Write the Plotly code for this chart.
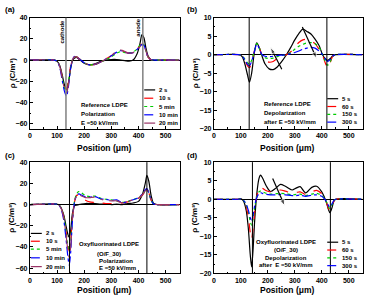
import plotly.graph_objects as go

# ---------------- data ----------------
# Panel (a) Reference LDPE, polarization
xa = [0, 90, 100, 110, 120, 128, 135, 142, 150, 158, 165, 172, 185, 200, 220, 240, 260, 280, 300, 320, 335, 350, 365, 380, 395, 405, 413, 420, 427, 435, 445, 460, 550]
a_2s   = [0, 0, -1, -5, -15, -24, -28, -22, -8, 0, 2, 2.5, 0, -3, -4.5, -3.5, -1.5, 0, 0.5, 0.5, 0, -0.5, -1, 0, 6, 15, 24, 21, 12, 4, 0.5, 0, 0]
a_10s  = [0, 0, -1, -6, -17, -25, -27, -20, -6, 1, 3, 3, 0.5, -2.5, -4.5, -4, -2, 1, 4, 7.5, 9.5, 7.5, 6.5, 7, 10, 13.5, 15, 14, 9, 3, 0.5, 0, 0]
a_5m   = [0, 0, -1, -6, -18, -27, -30, -22, -7, 1, 3, 3, 0.5, -2.5, -4.5, -4, -2, 0.5, 3, 6.5, 8, 7, 6.5, 7.5, 10.5, 14, 15.5, 14.5, 9, 3, 0.5, 0, 0]
a_10m  = [0, 0, -1, -7, -20, -30, -34, -25, -8, 1, 3.5, 3, 0.5, -2.5, -4.5, -4, -2, 1, 4, 7.5, 9, 7.5, 6.5, 7, 10, 13, 14.5, 14, 9, 3, 0.5, 0, 0]
a_20m  = [0, 0, -1, -6, -18, -28, -31, -23, -7, 1, 3, 3, 0.5, -2.5, -4.5, -4, -2, 1, 4.5, 8, 9.5, 8, 6.5, 7, 9.5, 12.5, 14, 13.5, 9, 3, 0.5, 0, 0]

# Panel (b) Reference LDPE, depolarization
xb = [0, 95, 105, 115, 125, 132, 140, 150, 159, 168, 177, 190, 205, 220, 235, 250, 269, 285, 300, 315, 330, 345, 360, 375, 390, 403, 412, 422, 432, 440, 450, 550]
b_5s   = [0, 0, -0.5, -2.5, -5.5, -7.4, -5, 0.5, 3.2, 2, 0, -2.5, -3.8, -4, -3.3, -2, 0, 2, 4, 5.7, 6.9, 6.3, 5.6, 4.2, 2.5, 0, -1, -1.5, -1, -0.3, 0, 0]
b_60s  = [0, 0, -0.3, -1.5, -3, -3.5, -2, 1, 3, 2, 0, -1.5, -2, -1.8, -1, -0.3, 0, 0.8, 2, 3.3, 4, 4.2, 3.8, 3, 1.5, 0, -2, -3.5, -2, -0.5, 0, 0]
b_150s = [0, 0, -0.3, -1.2, -2.2, -2.5, -1.5, 1, 3, 2, 0, -0.8, -1, -0.9, -0.5, -0.2, 0, 0.6, 1.5, 2.3, 2.8, 3.2, 3.3, 3, 2, 0, -1.6, -2.8, -1.8, -0.5, 0, 0]
b_300s = [0, 0, -0.3, -1.4, -2.6, -3, -1.8, 0.8, 2.8, 1.8, 0.2, -0.4, -0.5, -0.4, -0.2, -0.1, 0, 0.3, 0.6, 1, 1.5, 1.8, 2, 1.8, 1, 0, -1, -1.8, -1.2, -0.4, 0, 0]

# Panel (c) Oxyfluorinated LDPE, polarization
xc = [0, 95, 105, 115, 125, 133, 140, 145, 150, 157, 165, 172, 180, 190, 205, 220, 240, 260, 280, 300, 320, 340, 360, 380, 400, 415, 425, 431, 438, 447, 456, 470, 550]
c_2s   = [0, 0.5, 0, -3, -10, -20, -28, -31, -25, -8, -1, -0.5, 0, 0.5, 1, 1, 1, 0.5, 0.5, 0, 0.5, 0, 1, 1.5, 3, 10, 20, 27.5, 22, 8, 1, 0, 0]
c_10s  = [0, 0.5, 0, -3, -12, -25, -38, -44, -36, -12, 3, 8.5, 9.2, 7, 4, 2.5, 2, 1.5, 1, 1, 1, 1.5, 2.5, 4, 6, 9, 13, 14.5, 11, 4, 0.5, 0, 0]
c_5m   = [0, 0.5, 0, -3, -12, -26, -39, -45, -37, -12, 4, 10, 12.3, 11, 8.5, 7.5, 8, 6, 5, 4.5, 3.5, 2, 3, 4.5, 6.5, 9, 13.5, 14.5, 11, 4, 0.5, 0, 0]
c_10m  = [0, 0.5, 0, -4, -15, -32, -49, -57, -46, -15, 3, 8, 10, 9, 7, 7, 7.5, 5.5, 5, 4, 4.5, 1.5, 3, 4.5, 6.5, 10, 14, 15, 11.5, 4, 0.5, 0, 0]
c_20m  = [0, 0.5, 0, -3.5, -13, -28, -43, -50, -41, -13, 3, 8.5, 9.5, 8, 6.5, 6.5, 7, 5, 4, 3.5, 3.5, 1.5, 3, 4.5, 6, 9.5, 13, 14, 11, 4, 0.5, 0, 0]

# Panel (d) Oxyfluorinated LDPE, depolarization
xd = [0, 90, 100, 110, 120, 128, 135, 140, 145, 152, 160, 167, 173, 180, 195, 210, 230, 247, 265, 290, 305, 320, 340, 363, 381, 400, 410, 418, 425, 430, 437, 445, 452, 550]
d_5s   = [0, 0, 0.2, -0.5, -3, -8, -15, -18.2, -14, -5, 2, 5.5, 6.5, 5.8, 3.5, 2.1, 3, 4, 3.5, 2.5, 3, 3.4, 1.7, 3.2, 3.5, 2, 0.5, -1, -2.8, -3.6, -2.5, -0.5, 0, 0]
d_60s  = [0, 0, 0.1, -0.3, -2, -5, -9, -10.8, -8, -3, 1, 2.8, 3.3, 3, 2.3, 2, 2.2, 2.5, 2.2, 1.6, 1.8, 2, 1.3, 2, 2.4, 1.5, 0.3, -1, -2.5, -3, -2, -0.5, 0, 0]
d_150s = [0, 0, 0.1, -0.3, -1.5, -3.5, -6, -7, -5.5, -2, 0.8, 2, 2.2, 2, 1.6, 1.4, 1.5, 1.6, 1.5, 1.2, 1.3, 1.4, 1, 1.4, 1.6, 1, 0.2, -0.8, -2, -2.5, -1.6, -0.4, 0, 0]
d_300s = [0, 0, 0.1, -0.3, -1.3, -3, -5, -6, -4.5, -1.5, 0.6, 1.5, 1.8, 1.6, 1.3, 1.2, 1.2, 1.3, 1.2, 1, 1, 1.1, 0.8, 1.1, 1.2, 0.8, 0.1, -0.7, -1.7, -2.1, -1.4, -0.3, 0, 0]

pol_names = ["2 s", "10 s", "5 min", "10 min", "20 min"]
depol_names = ["5 s", "60 s", "150 s", "300 s"]
x_ticks = [0, 100, 200, 300, 400, 500]
y_ticks_pol = [40, 20, 0, -20, -40, -60]
y_ticks_depol = [10, 5, 0, -5, -10, -15, -20]
electrodes_a = [133, 416]
electrodes_b = [131, 419]
electrodes_c = [146, 431]
electrodes_d = [143, 432]

# arrows (tail x, tail y, head x, head y) indicating decay with time
arrow_b1 = ([252, 210], [-3.9, 2.0])
arrow_b2 = ([328, 381], [7.5, -1.0])
arrow_d1 = ([218, 263], [5.6, -1.8])

# ---------------- style ----------------
W, H = 369, 295
FONT = "Liberation Sans"
styles = [
    dict(color="black", dash="solid"),
    dict(color="#FF0000", dash="dash"),
    dict(color="#00CC00", dash="dot"),
    dict(color="#0000FF", dash="dashdot"),
    dict(color="#993366", dash="longdashdot"),
]

def px(x):
    return x / W

def py(y):
    return 1 - y / H

fig = go.Figure()

panels = [
    ("x", "y", xa, [a_2s, a_10s, a_5m, a_10m, a_20m], pol_names),
    ("x2", "y2", xb, [b_5s, b_60s, b_150s, b_300s], depol_names),
    ("x3", "y3", xc, [c_2s, c_10s, c_5m, c_10m, c_20m], pol_names),
    ("x4", "y4", xd, [d_5s, d_60s, d_150s, d_300s], depol_names),
]
for xr, yr, xs, series, names in panels:
    for i, (ys, nm) in enumerate(zip(series, names)):
        fig.add_trace(go.Scatter(
            x=xs, y=ys, name=nm, mode="lines", xaxis=xr, yaxis=yr,
            line=dict(color=styles[i]["color"], dash=styles[i]["dash"], width=1.2,
                      shape="spline", smoothing=0.8),
            showlegend=False))

for xr, yr, (ax_, ay_) in [("x2", "y2", arrow_b1), ("x2", "y2", arrow_b2), ("x4", "y4", arrow_d1)]:
    fig.add_trace(go.Scatter(
        x=ax_, y=ay_, mode="lines+markers", xaxis=xr, yaxis=yr, showlegend=False,
        line=dict(color="black", width=1.2),
        marker=dict(symbol=["circle", "arrow"], size=[0.1, 7], angleref="previous",
                    color="black"),
        hoverinfo="skip"))

dom_x = [[px(28), px(179)], [px(213), px(363)]]
dom_y = [[py(128), py(14)], [py(276), py(162)]]

tickfont = dict(family=FONT, size=7, color="black", weight="bold")
def xaxis(dom, anchor):
    return dict(domain=dom, anchor=anchor, range=[0, 553], tickvals=x_ticks,
                showline=True, mirror=True, linecolor="black", linewidth=1,
                ticks="inside", ticklen=3, tickcolor="black", showgrid=False,
                zeroline=False, tickfont=tickfont,
                minor=dict(ticks="inside", ticklen=1.5, dtick=50, tickcolor="black"))

def yaxis(dom, anchor, rng, tv, md):
    return dict(domain=dom, anchor=anchor, range=rng, tickvals=tv,
                showline=True, mirror=True, linecolor="black", linewidth=1,
                ticks="inside", ticklen=3, tickcolor="black", showgrid=False,
                zeroline=True, zerolinecolor="black", zerolinewidth=1,
                tickfont=tickfont,
                minor=dict(ticks="inside", ticklen=1.5, dtick=md, tickcolor="black"))

fig.update_layout(
    width=W, height=H, margin=dict(l=0, r=0, t=0, b=0),
    paper_bgcolor="white", plot_bgcolor="white",
    xaxis=xaxis(dom_x[0], "y"), yaxis=yaxis(dom_y[0], "x", [-65, 40], y_ticks_pol, 10),
    xaxis2=xaxis(dom_x[1], "y2"), yaxis2=yaxis(dom_y[0], "x2", [-20, 10], y_ticks_depol, 2.5),
    xaxis3=xaxis(dom_x[0], "y3"), yaxis3=yaxis(dom_y[1], "x3", [-65, 40], y_ticks_pol, 10),
    xaxis4=xaxis(dom_x[1], "y4"), yaxis4=yaxis(dom_y[1], "x4", [-20, 10], y_ticks_depol, 2.5),
    showlegend=False,
)

# electrode lines
for xr, yr, els, col, wd in [("x", "y", electrodes_a, "#808080", 1.5),
                             ("x2", "y2", electrodes_b, "black", 1),
                             ("x3", "y3", electrodes_c, "black", 1),
                             ("x4", "y4", electrodes_d, "black", 1)]:
    for e in els:
        fig.add_shape(type="line", xref=xr, yref=yr + " domain", x0=e, x1=e, y0=0, y1=1,
                      line=dict(color=col, width=wd))

ann = []
def txt(x, y, s, size=6, xref="paper", yref="paper", xanchor="center", angle=0):
    ann.append(dict(x=x, y=y, text=s, xref=xref, yref=yref, showarrow=False,
                    xanchor=xanchor, yanchor="middle", textangle=angle,
                    font=dict(family=FONT, size=size, color="black", weight="bold")))

# panel labels
txt(px(8), py(6), "(a)", 8)
txt(px(192), py(6), "(b)", 8)
txt(px(8), py(155), "(c)", 8)
txt(px(192), py(155), "(d)", 8)

# axis titles
ytitle = "ρ (C/m³)"
for xx, yy in [(10, 70), (194, 70), (10, 218), (194, 218)]:
    txt(px(xx), py(yy), ytitle, 8, angle=-90)
for xx, yy in [(103, 148), (287, 148), (103, 293), (287, 293)]:
    txt(px(xx), py(yy), "Position (μm)", 8.5)

# cathode / anode labels
txt(119, 27, "cathode", 6, "x", "y", angle=-90)
txt(400, 31, "anode", 6, "x", "y", angle=-90)

# panel texts
for i, s in enumerate(["Reference LDPE", "Polarization", "E =50 kV/mm"]):
    txt(182, [-42, -50.5, -59][i], s, 6, "x", "y", xanchor="left")
for i, s in enumerate(["Reference LDPE", "Depolarization", "after E =50 kV/mm"]):
    txt(180, [-13.3, -15.8, -18.2][i], s, 6, "x2", "y2", xanchor="left")
for i, s in enumerate(["Oxyfluorinated LDPE", "(O/F_30)", "Polarization", "E =50 kV/mm"]):
    txt([290, 290, 248, 248][i], [-37.5, -46.5, -53, -60][i], s, 6, "x3", "y3",
        xanchor=["center", "center", "left", "left"][i])
for i, s in enumerate(["Oxyfluorinated LDPE", "(O/F_30)", "Depolarization", "after  E =50 kV/mm"]):
    txt(267, [-11.6, -13.8, -15.8, -17.8][i], s, 6, "x4", "y4")

# manual legends (pixel positions)
def legend(x0, ys, names):
    for i, (yy, nm) in enumerate(zip(ys, names)):
        fig.add_shape(type="line", xref="paper", yref="paper",
                      x0=px(x0), x1=px(x0 + 11), y0=py(yy), y1=py(yy),
                      line=dict(color=styles[i]["color"], dash=styles[i]["dash"], width=1.2))
        txt(px(x0 + 13), py(yy), nm, 6, xanchor="left")

legend(143, [88, 96.5, 105, 113.5, 122], pol_names)
legend(327, [97, 105, 113, 121], depol_names)
legend(29, [235, 243, 251, 260, 269], pol_names)
legend(327, [244, 252, 260, 268], depol_names)

fig.update_layout(annotations=ann)
fig.write_html("out.html")
